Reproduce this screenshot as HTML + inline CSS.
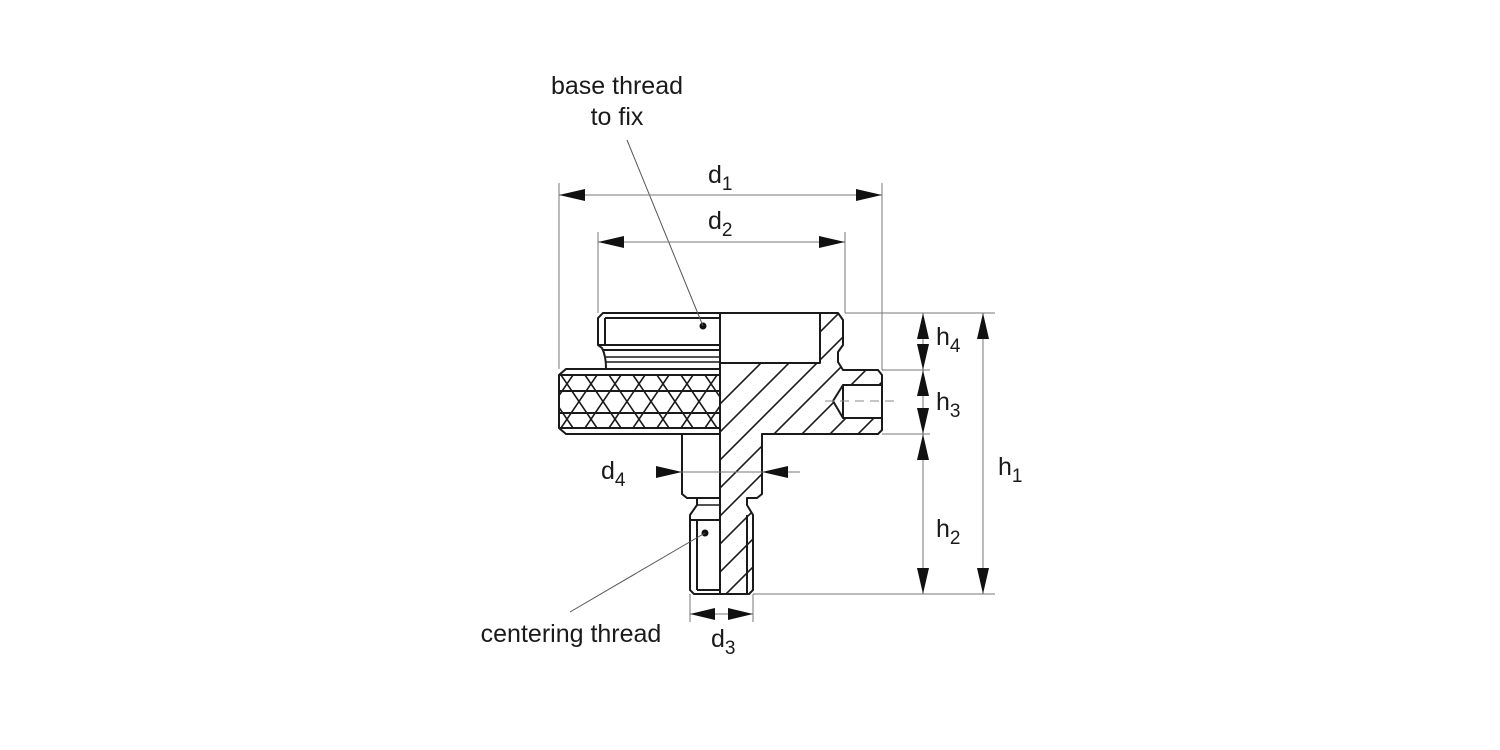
<!DOCTYPE html>
<html><head><meta charset="utf-8"><style>
html,body{margin:0;padding:0;background:#fff;width:1500px;height:750px;overflow:hidden;}
svg{display:block;}
text{font-family:"Liberation Sans",Arial,sans-serif;fill:#1a1a1a;}
</style></head><body>
<svg width="1500" height="750" viewBox="0 0 1500 750" xmlns="http://www.w3.org/2000/svg">
<defs>
<clipPath id="sec">
<path d="M720,363 L820,363 L820,313 L838,313 L843,320 L843,345 L838,352 L838,362 L843,370 L878,370 L882,375 L882,430 L878,434 L762,434 L762,494 L757,498 L747,498 L747,505 L753,515 L753,590 L749,594 L720,594 Z M882,385 L843,385 L833,401 L843,418 L882,418 Z" clip-rule="evenodd"/>
</clipPath>
<clipPath id="knurl"><rect x="559" y="375" width="161" height="53"/></clipPath>
</defs>

<g clip-path="url(#sec)" stroke="#1a1a1a" stroke-width="1.6" fill="none">
<path d="M420,900 L1020,300 M448,900 L1048,300 M476,900 L1076,300 M504,900 L1104,300 M532,900 L1132,300 M560,900 L1160,300 M588,900 L1188,300 M616,900 L1216,300 M644,900 L1244,300 M672,900 L1272,300 M700,900 L1300,300 M728,900 L1328,300 M756,900 L1356,300 M392,900 L992,300 M364,900 L964,300 M336,900 L936,300 M308,900 L908,300 M280,900 L880,300 M252,900 L852,300 M224,900 L824,300"/>
</g>

<g stroke="#1a1a1a" stroke-width="2" fill="none" stroke-linejoin="round">
<path d="M720,363 L820,363 L820,313 L838,313 L843,320 L843,345 L838,352 L838,362 L843,370 L878,370 L882,375 L882,430 L878,434 L762,434 L762,494 L757,498 L747,498 L747,505 L753,515 L753,590 L749,594 L720,594"/>
<path d="M882,385 L843,385 L833,401 L843,418 L882,418"/>
<line x1="843" y1="385" x2="843" y2="418"/>
<line x1="747" y1="515" x2="747" y2="594"/>
<line x1="720" y1="313" x2="720" y2="594"/>
<line x1="720" y1="313" x2="838" y2="313"/>
</g>
<line x1="825" y1="401" x2="900" y2="401" stroke="#888" stroke-width="1" stroke-dasharray="9,6"/>

<g stroke="#1a1a1a" stroke-width="2" fill="none">
<path d="M720,313 L603,313 L598,318 L598,345 L602,348 Q606,356 606,368"/>
<line x1="605" y1="318" x2="720" y2="318"/>
<line x1="605" y1="318" x2="605" y2="345"/>
<line x1="598" y1="345" x2="720" y2="345"/>
<line x1="603" y1="350" x2="720" y2="350"/>
<line x1="606" y1="357" x2="720" y2="357" stroke-width="1.4"/>
<line x1="606" y1="362" x2="720" y2="362" stroke-width="1.4"/>
<path d="M720,369 L566,369 L559,375 L559,428 L566,434 L720,434"/>
<line x1="559" y1="375" x2="720" y2="375"/>
<line x1="559" y1="391" x2="720" y2="391"/>
<line x1="559" y1="413" x2="720" y2="413"/>
<line x1="559" y1="428" x2="720" y2="428"/>
<path d="M720,434 L682,434 L682,494 L687,498 L720,498"/>
<path d="M697,498 L697,505 L690,515 L690,590 L694,594 L720,594"/>
<line x1="697" y1="505" x2="720" y2="505" stroke-width="1.4"/>
<line x1="690" y1="520" x2="720" y2="520"/>
<line x1="697" y1="520" x2="697" y2="590"/>
<line x1="697" y1="590" x2="720" y2="590"/>
</g>
<g clip-path="url(#knurl)" stroke="#1a1a1a" stroke-width="1.6">
<path d="M513,375 L549,428 M537,375 L573,428 M561,375 L597,428 M585,375 L621,428 M609,375 L645,428 M633,375 L669,428 M657,375 L693,428 M681,375 L717,428 M705,375 L741,428
M573,375 L537,428 M597,375 L561,428 M621,375 L585,428 M645,375 L609,428 M669,375 L633,428 M693,375 L657,428 M717,375 L681,428 M741,375 L705,428 M765,375 L729,428"/>
</g>

<circle cx="703" cy="326" r="3.5" fill="#111"/>
<circle cx="705" cy="533" r="3.5" fill="#111"/>
<line x1="627" y1="140" x2="703" y2="326" stroke="#555" stroke-width="1"/>
<line x1="570" y1="612" x2="705" y2="533" stroke="#555" stroke-width="1"/>

<g stroke="#777" stroke-width="1" fill="none">
<line x1="559" y1="183" x2="559" y2="369"/>
<line x1="882" y1="183" x2="882" y2="370"/>
<line x1="598" y1="232" x2="598" y2="313"/>
<line x1="845" y1="232" x2="845" y2="313"/>
<line x1="559" y1="195" x2="882" y2="195"/>
<line x1="598" y1="242" x2="845" y2="242"/>
<line x1="845" y1="313" x2="995" y2="313"/>
<line x1="882" y1="370" x2="930" y2="370"/>
<line x1="882" y1="434" x2="930" y2="434"/>
<line x1="753" y1="594" x2="995" y2="594"/>
<line x1="923" y1="313" x2="923" y2="594"/>
<line x1="983" y1="313" x2="983" y2="594"/>
<line x1="690" y1="594" x2="690" y2="622"/>
<line x1="753" y1="594" x2="753" y2="622"/>
<line x1="690" y1="614" x2="753" y2="614"/>
<line x1="660" y1="472" x2="800" y2="472"/>
</g>
<g fill="#111">
<polygon points="559,195 585,189 585,201"/>
<polygon points="882,195 856,189 856,201"/>
<polygon points="598,242 624,236 624,248"/>
<polygon points="845,242 819,236 819,248"/>
<polygon points="923,313 917,339 929,339"/>
<polygon points="923,370 917,344 929,344"/>
<polygon points="923,370 917,396 929,396"/>
<polygon points="923,434 917,408 929,408"/>
<polygon points="923,434 917,460 929,460"/>
<polygon points="923,594 917,568 929,568"/>
<polygon points="983,313 977,339 989,339"/>
<polygon points="983,594 977,568 989,568"/>
<polygon points="690,614 715,608 715,620"/>
<polygon points="753,614 728,608 728,620"/>
<polygon points="682,472 656,466 656,478"/>
<polygon points="762,472 788,466 788,478"/>
</g>

<g font-size="25">
<text x="617" y="94" text-anchor="middle">base thread</text>
<text x="617" y="125" text-anchor="middle">to fix</text>
<text x="571" y="642" text-anchor="middle">centering thread</text>
<text x="708" y="183">d<tspan font-size="19" dy="7">1</tspan></text>
<text x="708" y="229">d<tspan font-size="19" dy="7">2</tspan></text>
<text x="711" y="647">d<tspan font-size="19" dy="7">3</tspan></text>
<text x="601" y="479">d<tspan font-size="19" dy="7">4</tspan></text>
<text x="936" y="345">h<tspan font-size="19" dy="7">4</tspan></text>
<text x="936" y="410">h<tspan font-size="19" dy="7">3</tspan></text>
<text x="936" y="537">h<tspan font-size="19" dy="7">2</tspan></text>
<text x="998" y="475">h<tspan font-size="19" dy="7">1</tspan></text>
</g>
</svg>
</body></html>
